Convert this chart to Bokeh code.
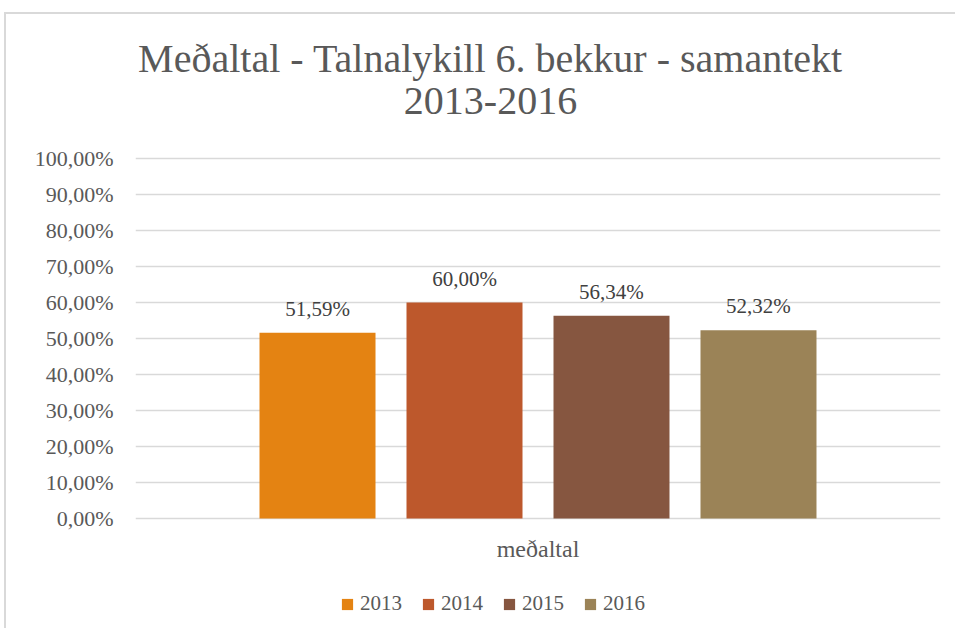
from bokeh.plotting import figure
from bokeh.models import (ColumnDataSource, FactorRange, Range1d, Label, Legend, LegendItem,
                          CustomJSTickFormatter, FixedTicker)
from bokeh.transform import dodge
from bokeh.core.properties import value
from bokeh.embed import file_html
from bokeh.resources import INLINE

# ---- data ----
categories = ["meðaltal"]
years = ["2013", "2014", "2015", "2016"]
values = [0.5159, 0.6000, 0.5634, 0.5232]
colors = ["#E48312", "#BD582C", "#865640", "#9B8357"]
y_ticks = [0.0, 0.1, 0.2, 0.3, 0.4, 0.5, 0.6, 0.7, 0.8, 0.9, 1.0]
title_line1 = "Meðaltal - Talnalykill 6. bekkur - samantekt"
title_line2 = "2013-2016"

FONT = "Liberation Serif"
W, H = 951, 616
# frame spans the full canvas height so title and legend sit inside it;
# value 0 -> 504 px from canvas top, value 1 -> 144 px from canvas top
Y0, Y1 = -112 / 360, 504 / 360

p = figure(width=W, height=H, x_range=FactorRange(factors=categories, range_padding=0),
           y_range=Range1d(Y0, Y1), output_backend="svg", toolbar_location=None,
           min_border_left=129, min_border_right=17, min_border_top=0, min_border_bottom=0,
           styles={"margin-left": "4px", "margin-top": "12px",
                   "border-left": "2px solid #d9d9d9", "border-top": "2px solid #d9d9d9"})
p.outline_line_color = None
p.background_fill_color = "white"
p.border_fill_color = "white"
p.xaxis.visible = False

bar_w = 0.1441
step = 0.1826
items = []
for i, (yr, v, c) in enumerate(zip(years, values, colors)):
    src = ColumnDataSource(dict(x=[categories[0]], value=[v],
                                label=[("%.2f" % (v * 100)).replace(".", ",") + "%"]))
    off = (i - 1.5) * step
    r = p.vbar(x=dodge("x", off, range=p.x_range), top="value", width=bar_w, source=src,
               fill_color=c, line_color=None)
    p.text(x=dodge("x", off, range=p.x_range), y="value", text="label", source=src,
           text_align="center", text_baseline="alphabetic", y_offset=-24,
           text_font=value(FONT), text_font_size="21px", text_color="#404040")
    items.append(LegendItem(label=yr, renderers=[r]))

# category label under the bars
p.text(x=categories, y=[0] * len(categories), text=categories, y_offset=30,
       text_align="center", text_baseline="middle",
       text_font=value(FONT), text_font_size="24px", text_color="#595959")

# y axis
p.yaxis.ticker = FixedTicker(ticks=y_ticks)
p.yaxis.formatter = CustomJSTickFormatter(code="return (tick*100).toFixed(2).replace('.', ',') + '%';")
ax = p.yaxis[0]
ax.axis_line_color = None
ax.major_tick_line_color = None
ax.minor_tick_line_color = None
ax.major_tick_out = 0
ax.major_tick_in = 0
ax.major_label_text_font = FONT
ax.major_label_text_font_size = "22px"
ax.major_label_text_color = "#595959"
ax.major_label_standoff = 22

p.xgrid.grid_line_color = None
p.ygrid.grid_line_color = "#d9d9d9"
p.ygrid.grid_line_width = 1.5

# title (screen units, from the frame's bottom-left)
for txt, yy in ((title_line1, 572), (title_line2, 530)):
    p.add_layout(Label(x=355, y=yy, x_units="screen", y_units="screen", text=txt,
                       text_align="center", text_baseline="middle", text_font=FONT,
                       text_font_size="40px", text_color="#595959"))

legend = Legend(items=items, orientation="horizontal", location=(205, 14),
                glyph_width=14, glyph_height=14, label_standoff=6, spacing=19,
                padding=0, margin=0, border_line_color=None, background_fill_alpha=0,
                label_text_font=FONT, label_text_font_size="21px", label_text_color="#595959",
                label_height=20)
p.add_layout(legend, "center")

open("out.html", "w").write(file_html(p, INLINE))
